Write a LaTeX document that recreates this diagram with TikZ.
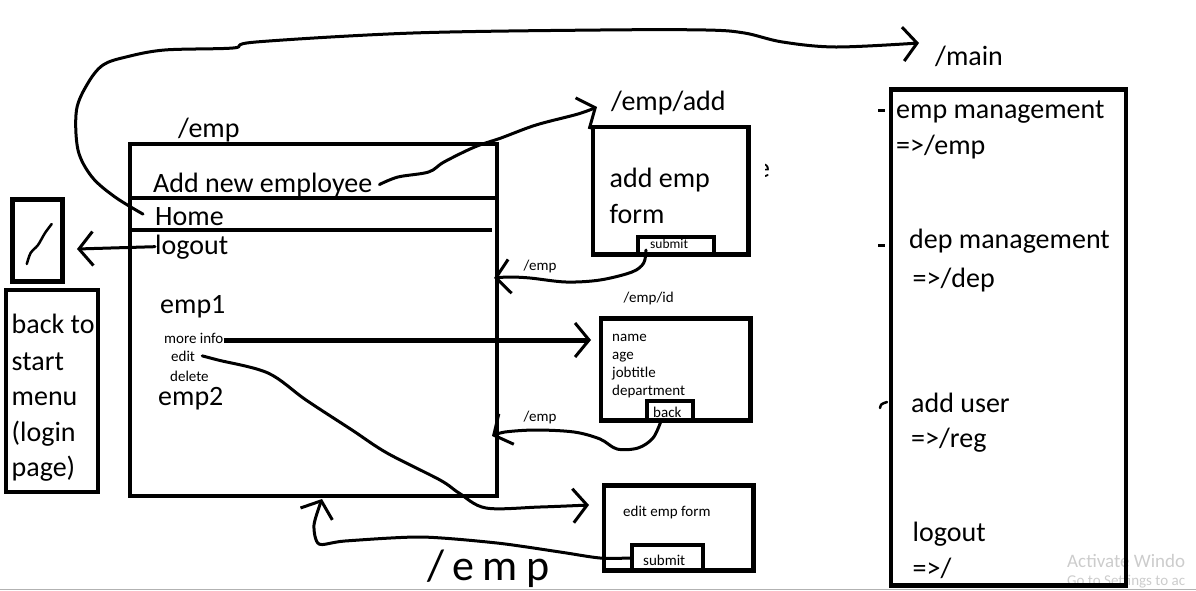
\documentclass[tikz,border=0pt]{standalone}
\usepackage{fontspec}
\setmainfont{Carlito}
\newfontfamily\handfont[LetterSpace=20]{Carlito}
\usetikzlibrary{arrows.meta}
\tikzset{
  box/.style={draw, line width=4.5pt, inner sep=0pt, outer sep=0pt},
  big/.style={font=\fontsize{28}{34}\selectfont, inner sep=0pt, anchor=base west},
  small/.style={font=\fontsize{15}{18}\selectfont, inner sep=0pt, anchor=base west},
  tiny/.style={font=\fontsize{13.5}{16}\selectfont, inner sep=0pt, anchor=base west},
  hand/.style={line width=3pt, line cap=round, line join=round},
  tip/.style={-{Straight Barb[length=14pt,width=34pt,line width=3pt]}},
  sep/.style={line width=4pt},
  wm/.style={text=black!20, anchor=base west, inner sep=0pt}
}
\begin{document}
\begin{tikzpicture}[x=1pt,y=-1pt]
\useasboundingbox (0,0) rectangle (1196,590);
\clip (0,0) rectangle (1196,590);

% watermark (as cut off in the screenshot)
\node[wm, font=\fontsize{19}{22}\selectfont] (aw) at (1067,567) {Activate Windo};
\node[wm, font=\fontsize{15}{17}\selectfont] (gs) at (1067,585) {Go to Settings to ac};
\draw[black!30, line width=1.5pt] (0,589.5) -- (1196,589.5);

% ---------- /emp page ----------
\node[big] (empTitle) at (178,137) {/emp};
\node[box, minimum width=367pt, minimum height=352pt] (empbox) at (313.5,320) {};
\draw[sep] (132,197.5) -- (495,197.5);
\draw[sep] (132,230) -- (492,230);
\node[big] (addT) at (153,192) {Add new employee};
\node[big] (homeT) at (155,225) {Home};
\node[big] (logoutT) at (155,254) {logout};
\node[big] (emp1) at (160,313) {emp1};
\node[small] (moreT) at (164,343) {more info};
\node[small] (editT) at (171,361) {edit};
\node[small] (delT) at (170,381) {delete};
\node[big] (emp2) at (158,405) {emp2};

% ---------- / (start) ----------
\node[box, line width=5pt, minimum width=50pt, minimum height=82pt] (slashbox) at (37.5,240.5) {};
\draw[hand, line width=2.5pt] plot[smooth] coordinates {(51.7,224) (45,233) (38,245) (30.6,253) (26.8,264)};
\node[box, minimum width=92pt, minimum height=202pt] (backbox) at (52,391) {};
\node[big] (b1) at (11.5,333) {back to};
\node[big] (b2) at (11.5,370) {start};
\node[big] (b3) at (11.5,405) {menu};
\node[big] (b4) at (11.5,441.5) {(login};
\node[big] (b5) at (11.5,476.5) {page)};

% ---------- /emp/add ----------
\node[big] (addLbl) at (611,110) {/emp/add};
\node[box, minimum width=155.5pt, minimum height=127.5pt] (addbox) at (670.75,190.75) {};
\node[big] (addF1) at (609.5,187) {add emp};
\node[big] (addF2) at (609.5,223) {form};
\node[box, line width=4pt, minimum width=76pt, minimum height=17pt] (sub1) at (676,245.5) {};
\node[tiny] (sub1T) at (650,248) {submit};
\begin{scope}
  \clip (765,150) rectangle (780,190);
  \node[big] (stray) at (756,177) {e};
\end{scope}

% ---------- /emp/id ----------
\node[small] (idLbl) at (623.5,302.7) {/emp/id};
\node[box, minimum width=149.5pt, minimum height=102pt] (idbox) at (675.75,369.5) {};
\node[small] (f1) at (612,341.7) {name};
\node[small] (f2) at (612,359) {age};
\node[small] (f3) at (612,377) {jobtitle};
\node[small] (f4) at (612,395) {department};
\node[box, minimum width=46pt, minimum height=20pt] (backB) at (670,411) {};
\node[small] (backT) at (653,417.7) {back};

% ---------- edit form ----------
\node[box, minimum width=149.5pt, minimum height=85pt] (editbox) at (678.75,528) {};
\node[small] (editF) at (623,516.7) {edit emp form};
\node[box, minimum width=71pt, minimum height=26pt] (sub2) at (667.5,558) {};
\node[small] (sub2T) at (643,565) {submit};

% ---------- /main ----------
\node[big] (mainLbl) at (935,65) {/main};
\node[box, minimum width=235pt, minimum height=496pt] (mainbox) at (1008.5,337.5) {};
\node[big] (m1) at (896,118) {emp management};
\node[big] (m2) at (896,154) {=>/emp};
\node[big] (m3) at (909,248) {dep management};
\node[big] (m4) at (912.5,287) {=>/dep};
\node[big] (m5) at (911,412) {add user};
\node[big] (m6) at (911,447) {=>/reg};
\node[big] (m7) at (912.5,541.7) {logout};
\node[big] (m8) at (912.5,577) {=>/};
\draw[line width=3pt] (878,110) -- (885,110);
\draw[line width=3pt] (878,245) -- (885,245);
\draw[hand, line width=2.5pt] (880,408) .. controls (881,404) .. (887,402);

% ---------- connector ends ----------
\coordinate (mainTip) at (919,43);
\coordinate (addTip) at (597,107);
\coordinate (logoutTip) at (77,249);
\coordinate (moreTip) at (591,340);
\coordinate (ret1Tip) at (494,278);
\coordinate (ret2Tip) at (492,436);
\coordinate (editTip) at (589,505);
\coordinate (ret3Tip) at (322,499);

% ---------- connectors ----------
\draw[hand, tip] plot[smooth, tension=0.55] coordinates {([xshift=-12pt,yshift=2pt]homeT.west) (115,197) (92,177) (78,150) (76.5,110) (88,83) (103,65) (126,57) (164.5,50) (233,48) (256,42) (413,33) (600,30) (706,30) (744.5,33) (782.5,42) (836,47) (mainTip)};
\draw[hand, tip] plot[smooth, tension=0.55] coordinates {([xshift=7pt]addT.east) (398,177) (428.6,172) (444,162) (474.6,147) (501,138) (536,125) (578,114) (addTip)};
\draw[hand, tip] (logoutT.west) -- (logoutTip);
\draw[line width=5pt, tip] (moreT.east |- moreTip) -- (moreTip);
\draw[hand, tip] plot[smooth, tension=0.55] coordinates {([xshift=-30pt,yshift=4pt]sub1.south) (643.7,263) (632,272) (600,280) (566,282) (530,278) (509,277) (ret1Tip)};
\node[small] (ret1L) at (523.5,270.7) {/emp};
\draw[hand, tip] plot[smooth, tension=0.55] coordinates {([xshift=-9pt]backB.south) (653,438) (638,448) (617,449) (600,439) (574,432) (536,430) (505,432) (ret2Tip)};
\node[small] (ret2L) at (523.5,421.7) {/emp};
\draw[hand, tip] plot[smooth, tension=0.55] coordinates {([xshift=7pt]editT.east) (218,360) (268,373) (306,400) (352,430) (387,453) (440,480) (459,493) (486,508) (540,507) (editTip)};
\draw[hand, tip] plot[smooth, tension=0.45] coordinates {(sub2.west) (600,558) (560,552) (497,543) (421,537) (345,541) (319,544) (314,525) (ret3Tip)};
\node[font=\handfont\fontsize{44}{48}\selectfont, inner sep=0pt, anchor=base west] (empHand) at (427,580) {/emp};
\end{tikzpicture}
\end{document}
